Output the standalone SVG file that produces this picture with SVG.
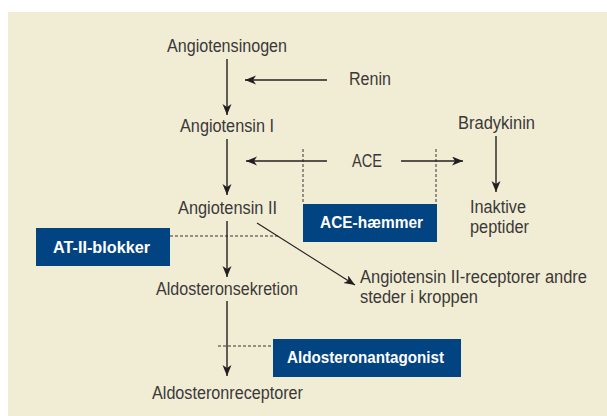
<svg xmlns="http://www.w3.org/2000/svg" width="607" height="416" viewBox="0 0 607 416">
<style>
.lbl{font-family:"Liberation Sans",Arial,sans-serif;font-size:17.5px;fill:#3b3838}
.btxt{font-family:"Liberation Sans",Arial,sans-serif;font-size:17px;font-weight:bold;fill:#ffffff}
.box{fill:#024382}
.arr{stroke:#231f20;stroke-width:1.4;fill:none;marker-end:url(#ah)}
.dash{stroke:#231f20;stroke-width:0.9;stroke-dasharray:3 2;fill:none}
</style>
<defs>
<marker id="ah" markerUnits="userSpaceOnUse" markerWidth="12" markerHeight="10" refX="11" refY="4.5" orient="auto">
<path d="M0,0 L11,4.5 L0,9 L3,4.5 z" fill="#231f20"/>
</marker>
</defs>
<rect x="8" y="12" width="599" height="404" fill="#f1edd5"/>
<g id="connectors">
<line class="arr" x1="227" y1="59" x2="227" y2="115"/>
<line class="arr" x1="327" y1="80" x2="245" y2="80"/>
<line class="arr" x1="227" y1="139" x2="227" y2="195"/>
<line class="arr" x1="327" y1="161" x2="246" y2="161"/>
<line class="arr" x1="401" y1="161" x2="463" y2="161"/>
<line class="arr" x1="496" y1="136" x2="496" y2="192"/>
<line class="arr" x1="227" y1="221" x2="227" y2="277"/>
<line class="arr" style="stroke-width:1.1" x1="257" y1="223" x2="355" y2="285"/>
<line class="arr" x1="227" y1="301" x2="227" y2="376"/>
<line class="dash" x1="303" y1="149" x2="303" y2="204"/>
<line class="dash" x1="436" y1="149" x2="436" y2="204"/>
<line class="dash" x1="170" y1="236" x2="280" y2="236"/>
<line class="dash" x1="218" y1="346" x2="273" y2="346"/>
</g>
<g id="angiotensinogen"><text class="lbl" x="167" y="52" textLength="120" lengthAdjust="spacingAndGlyphs">Angiotensinogen</text></g>
<g id="renin"><text class="lbl" x="349" y="85" textLength="42" lengthAdjust="spacingAndGlyphs">Renin</text></g>
<g id="angiotensin1"><text class="lbl" x="180" y="132" textLength="94" lengthAdjust="spacingAndGlyphs">Angiotensin I</text></g>
<g id="bradykinin"><text class="lbl" x="458" y="129" textLength="77" lengthAdjust="spacingAndGlyphs">Bradykinin</text></g>
<g id="ace"><text class="lbl" x="352" y="167" textLength="30" lengthAdjust="spacingAndGlyphs">ACE</text></g>
<g id="angiotensin2"><text class="lbl" x="178" y="214" textLength="99" lengthAdjust="spacingAndGlyphs">Angiotensin II</text></g>
<g id="inaktive"><text class="lbl" x="470" y="213" textLength="56" lengthAdjust="spacingAndGlyphs">Inaktive</text><text class="lbl" x="470" y="233" textLength="59" lengthAdjust="spacingAndGlyphs">peptider</text></g>
<g id="acehaemmer"><rect class="box" x="303" y="204" width="134" height="38"/><text class="btxt" x="320" y="228" textLength="103" lengthAdjust="spacingAndGlyphs">ACE-hæmmer</text></g>
<g id="at2blokker"><rect class="box" x="36" y="228" width="134" height="38"/><text class="btxt" x="53" y="253" textLength="97" lengthAdjust="spacingAndGlyphs">AT-II-blokker</text></g>
<g id="aldosteronsekretion"><text class="lbl" x="156" y="295" textLength="142" lengthAdjust="spacingAndGlyphs">Aldosteronsekretion</text></g>
<g id="receptorer"><text class="lbl" x="360" y="283" textLength="227" lengthAdjust="spacingAndGlyphs">Angiotensin II-receptorer andre</text><text class="lbl" x="360" y="303" textLength="118" lengthAdjust="spacingAndGlyphs">steder i kroppen</text></g>
<g id="aldosteronantagonist"><rect class="box" x="273" y="339" width="188" height="38"/><text class="btxt" x="287" y="363" textLength="157" lengthAdjust="spacingAndGlyphs">Aldosteronantagonist</text></g>
<g id="aldosteronreceptorer"><text class="lbl" x="152" y="399" textLength="151" lengthAdjust="spacingAndGlyphs">Aldosteronreceptorer</text></g>
</svg>
